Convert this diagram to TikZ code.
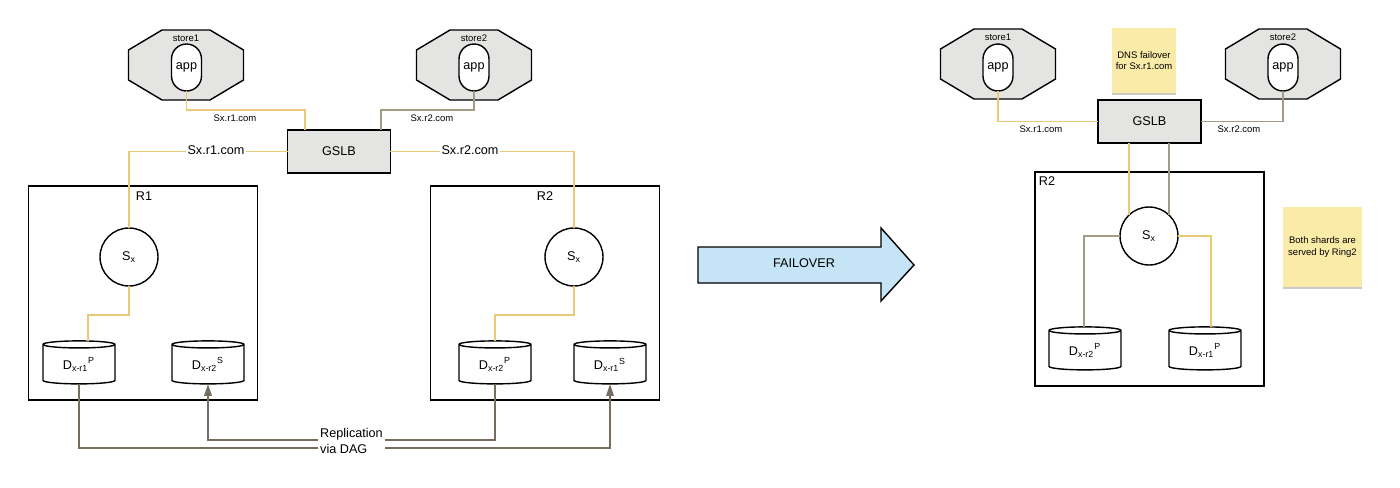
\documentclass[tikz,border=0pt]{standalone}
\usepackage{fontspec}
\setmainfont{Liberation Sans}
\usetikzlibrary{arrows.meta}
\usetikzlibrary{shapes.geometric}
\usetikzlibrary{shadows}

\begin{document}
\begin{tikzpicture}[x=0.02cm,y=-0.02cm,
	bigtxt/.style={font=\fontsize{7.2}{9}\selectfont},
	smalltxt/.style={font=\fontsize{5.4}{6.6}\selectfont},
	storeshape/.pic={\draw[line width=0.8pt,fill=storegrey] (-24,-35) -- (24,-35) -- (57.5,-15) -- (57.5,15) -- (24,35) -- (-24,35) -- (-57.5,15) -- (-57.5,-15) -- cycle;},
	appbox/.style={draw,line width=0.8pt,fill=white,rectangle,rounded corners=0.3cm,minimum width=0.6cm,minimum height=0.94cm,inner sep=0pt,outer sep=0pt,bigtxt},
	gslbbox/.style={draw,line width=0.9pt,fill=storegrey,minimum width=2.06cm,minimum height=0.86cm,outer sep=0pt,bigtxt},
	ringbox/.style={draw,line width=0.8pt,minimum width=4.58cm,minimum height=4.28cm,outer sep=0pt},
	shardcircle/.style={draw,line width=0.8pt,circle,minimum size=1.16cm,inner sep=0pt,outer sep=0pt,bigtxt},
	dbbox/.style={draw,line width=0.8pt,fill=white,cylinder,shape border rotate=90,aspect=0.22,minimum width=1.44cm,minimum height=0.86cm,inner sep=0pt,outer sep=0pt,bigtxt},
	notebox/.style={fill=noteyellow,drop shadow={shadow xshift=0cm,shadow yshift=-0.04cm,fill=black!35,opacity=0.6},align=center,inner sep=0pt,outer sep=0pt,smalltxt},
	yellowline/.style={draw=lineyellow,line width=0.85pt},
	greyline/.style={draw=linegrey,line width=0.85pt},
	replline/.style={draw=replgrey,line width=0.85pt},
	replarrow/.style={replline,-{Triangle[length=0.24cm,width=0.15cm,fill=replgrey]}},
	]
	\definecolor{storegrey}{HTML}{E4E4E2}
	\definecolor{noteyellow}{HTML}{FAEBA9}
	\definecolor{lineyellow}{HTML}{E9C877}
	\definecolor{linegrey}{HTML}{A39A88}
	\definecolor{replgrey}{HTML}{766C60}
	\definecolor{arrowblue}{HTML}{C5E4F5}

	\useasboundingbox (0,0) rectangle (1400,487);

	%RINGS BEFORE
	\node[ringbox] (ringA) at (143,293) {};
	\node[ringbox] (ringB) at (545,293) {};
	\node[bigtxt] (ringAname) at (144,196) {R1};
	\node[bigtxt] (ringBname) at (545,196) {R2};

	%STORES BEFORE
	\pic at (186,65) {storeshape};
	\pic at (474,65) {storeshape};
	\node[smalltxt] (storeAname) at (186,38) {store1};
	\node[smalltxt] (storeBname) at (474,38) {store2};
	\node[appbox] (appA) at (186.5,67.5) {app};
	\node[appbox] (appB) at (474,67.5) {app};
	\node[gslbbox] (gslb) at (339,151.5) {GSLB};

	%SHARDS AND DATABASES BEFORE
	\node[shardcircle] (sxA) at (129,257) {S\textsubscript{x}};
	\node[shardcircle] (sxB) at (574,257) {S\textsubscript{x}};
	\node[dbbox] (dbAp) at (79,364.5) {D\textsubscript{x-r1}\textsuperscript{P}};
	\node[dbbox] (dbAs) at (208,364.5) {D\textsubscript{x-r2}\textsuperscript{S}};
	\node[dbbox] (dbBp) at (495,364.5) {D\textsubscript{x-r2}\textsuperscript{P}};
	\node[dbbox] (dbBs) at (610,364.5) {D\textsubscript{x-r1}\textsuperscript{S}};

	%LINKS BEFORE
	\draw[yellowline] (appA.south) -- ++(0,19) -| ([xshift=-0.68cm]gslb.north);
	\draw[greyline] (appB.south) -- ++(0,19) -| ([xshift=0.84cm]gslb.north);
	\draw[yellowline] (gslb.west) -| (sxA.north);
	\draw[yellowline] (gslb.east) -| (sxB.north);
	\draw[yellowline] (sxA.south) -- ++(0,29) -| ([xshift=0.18cm]dbAp.north);
	\draw[yellowline] (sxB.south) -- ++(0,29) -| (dbBp.north);
	\node[smalltxt] (linkAsmall) at (235,118) {Sx.r1.com};
	\node[smalltxt] (linkBsmall) at (432,118) {Sx.r2.com};
	\node[bigtxt,fill=white,inner sep=1pt] (linkAbig) at (216,150) {Sx.r1.com};
	\node[bigtxt,fill=white,inner sep=1pt] (linkBbig) at (470,150) {Sx.r2.com};

	%REPLICATION
	\draw[replarrow] (dbBp.south) -- ++(0,56) -| (dbAs.south);
	\draw[replarrow] (dbAp.south) -- ++(0,64) -| (dbBs.south);
	\node[bigtxt,fill=white,inner sep=1pt,align=left,minimum width=1.26cm] (repl) at (351.5,441) {Replication\\via DAG};

	%FAILOVER ARROW
	\draw[line width=0.8pt,fill=arrowblue] (698,247) -- (881,247) -- (881,228) -- (914,265) -- (881,301) -- (881,283) -- (698,283) -- cycle;
	\node[bigtxt] (failover) at (804,263) {FAILOVER};

	%RING AFTER
	\node[ringbox,line width=1.1pt] (ringC) at (1149.5,279) {};
	\node[bigtxt] (ringCname) at (1047,181) {R2};

	%STORES AFTER
	\pic at (998,64) {storeshape};
	\pic at (1283,64) {storeshape};
	\node[smalltxt] (storeCname) at (998,37) {store1};
	\node[smalltxt] (storeDname) at (1283,37) {store2};
	\node[appbox] (appC) at (998,67.5) {app};
	\node[appbox] (appD) at (1283,67.5) {app};
	\node[gslbbox] (gslbC) at (1149.5,121.5) {GSLB};

	%SHARD AND DATABASES AFTER
	\node[shardcircle] (sxC) at (1149,236) {S\textsubscript{x}};
	\node[dbbox] (dbCa) at (1085,350.5) {D\textsubscript{x-r2}\textsuperscript{P}};
	\node[dbbox] (dbCb) at (1205,350.5) {D\textsubscript{x-r1}\textsuperscript{P}};

	%LINKS AFTER
	\draw[yellowline] (appC.south) |- (gslbC.west);
	\draw[greyline] (appD.south) |- (gslbC.east);
	\draw[yellowline] (sxC.134) -- (sxC.134 |- gslbC.south);
	\draw[greyline] (sxC.46) -- (sxC.46 |- gslbC.south);
	\draw[greyline] (sxC.west) -| ([xshift=-0.02cm]dbCa.north);
	\draw[yellowline] (sxC.east) -| ([xshift=0.12cm]dbCb.north);
	\node[smalltxt] (linkCsmall) at (1041,129) {Sx.r1.com};
	\node[smalltxt] (linkDsmall) at (1239,129) {Sx.r2.com};

	%NOTES
	\node[notebox,minimum width=1.28cm,minimum height=1.3cm] (noteA) at (1144,60.5) {DNS failover\\for Sx.r1.com};
	\node[notebox,minimum width=1.58cm,minimum height=1.6cm] (noteB) at (1322.5,247) {Both shards are\\served by Ring2};
\end{tikzpicture}
\end{document}
